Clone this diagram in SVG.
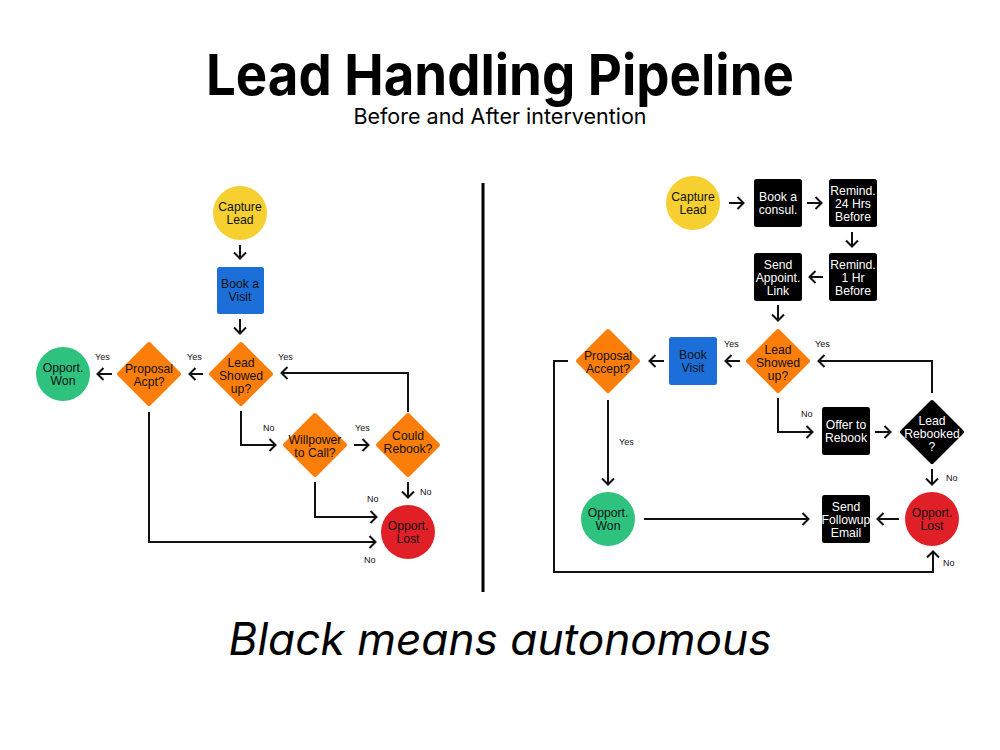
<svg xmlns="http://www.w3.org/2000/svg" width="1000" height="750" viewBox="0 0 1000 750">
<style>
.t{font-family:"Liberation Sans",Arial,sans-serif;font-size:12.2px;text-anchor:middle;fill:#111}
.w{fill:#fff}
.lbl{font-family:"Liberation Sans",Arial,sans-serif;font-size:9px;fill:#111}
.c{fill:none;stroke:#111;stroke-width:2}
.yel{fill:#F5D030}.blu{fill:#1C6FD8}.org{fill:#FC7E0A;stroke:#FC7E0A;stroke-width:4;stroke-linejoin:round}
.grn{fill:#2EC27E}.red{fill:#E01F27}.blk{fill:#000}
.bd{fill:#000;stroke:#000;stroke-width:4;stroke-linejoin:round}
</style>
<defs>
<marker id="ah" viewBox="0 0 14 14" refX="8.5" refY="7" markerWidth="14" markerHeight="14" markerUnits="userSpaceOnUse" orient="auto">
<path d="M2,1 L8,7 L2,13" fill="none" stroke="#111" stroke-width="2"/>
</marker>
</defs>
<rect width="1000" height="750" fill="#fff"/>
<g id="title">
<text x="500" y="95" font-family="Inter,'Liberation Sans',Arial,sans-serif" font-size="57" font-weight="700" text-anchor="middle" fill="#000" textLength="588" lengthAdjust="spacingAndGlyphs">Lead Handling Pipeline</text>
<text x="500" y="124" font-family="Inter,'Liberation Sans',Arial,sans-serif" font-size="21.5" text-anchor="middle" fill="#000">Before and After intervention</text>
<text x="500" y="655" font-family="Inter,'Liberation Sans',Arial,sans-serif" font-size="44.5" font-style="italic" text-anchor="middle" fill="#000" textLength="543" lengthAdjust="spacingAndGlyphs">Black means autonomous</text>
</g>
<line id="divider" x1="483" y1="183" x2="483" y2="592" stroke="#000" stroke-width="3"/>
<g id="connectors">
<path class="c" d="M240,245 V259" marker-end="url(#ah)"/>
<path class="c" d="M240,319 V334" marker-end="url(#ah)"/>
<path class="c" d="M203,374 H189" marker-end="url(#ah)"/>
<path class="c" d="M112,374 H97" marker-end="url(#ah)"/>
<path class="c" d="M241,411 V445 H276" marker-end="url(#ah)"/>
<path class="c" d="M354,445 H369" marker-end="url(#ah)"/>
<path class="c" d="M408,412 V373 H281" marker-end="url(#ah)"/>
<path class="c" d="M408,482 V498" marker-end="url(#ah)"/>
<path class="c" d="M315,482 V517 H377" marker-end="url(#ah)"/>
<path class="c" d="M149,412 V542 H376" marker-end="url(#ah)"/>
<path class="c" d="M729,203 H744" marker-end="url(#ah)"/>
<path class="c" d="M807,203 H822" marker-end="url(#ah)"/>
<path class="c" d="M852,232 V247" marker-end="url(#ah)"/>
<path class="c" d="M823,277 H809" marker-end="url(#ah)"/>
<path class="c" d="M778,305 V321" marker-end="url(#ah)"/>
<path class="c" d="M740,361 H725" marker-end="url(#ah)"/>
<path class="c" d="M664,361 H649" marker-end="url(#ah)"/>
<path class="c" d="M568,361 H554 V572 H933 V551" marker-end="url(#ah)"/>
<path class="c" d="M608,400 V485" marker-end="url(#ah)"/>
<path class="c" d="M644,519 H809" marker-end="url(#ah)"/>
<path class="c" d="M899,519 H877" marker-end="url(#ah)"/>
<path class="c" d="M778,398 V432 H813" marker-end="url(#ah)"/>
<path class="c" d="M875,432 H891" marker-end="url(#ah)"/>
<path class="c" d="M932,393 V361 H818" marker-end="url(#ah)"/>
<path class="c" d="M932,469 V485" marker-end="url(#ah)"/>
</g>
<g id="labels">
<text class="lbl" x="278" y="360">Yes</text>
<text class="lbl" x="187" y="360">Yes</text>
<text class="lbl" x="95" y="360">Yes</text>
<text class="lbl" x="263" y="431">No</text>
<text class="lbl" x="355" y="431">Yes</text>
<text class="lbl" x="420" y="495">No</text>
<text class="lbl" x="367" y="502">No</text>
<text class="lbl" x="364" y="563">No</text>
<text class="lbl" x="724" y="347">Yes</text>
<text class="lbl" x="815" y="347">Yes</text>
<text class="lbl" x="619" y="445">Yes</text>
<text class="lbl" x="801" y="417">No</text>
<text class="lbl" x="946" y="481">No</text>
<text class="lbl" x="943" y="566">No</text>
</g>
<g id="L_capture"><circle class="yel" cx="240" cy="213" r="27"/><text class="t" x="240" y="211">Capture</text><text class="t" x="240" y="224">Lead</text></g>
<g id="L_book"><rect class="blu" x="217" y="267" width="47" height="47" rx="2.5"/><text class="t" x="240" y="288">Book a</text><text class="t" x="240" y="301">Visit</text></g>
<g id="L_showed"><polygon class="org" points="241,344 271,374 241,404 211,374"/><text class="t" x="241" y="367">Lead</text><text class="t" x="241" y="380">Showed</text><text class="t" x="241" y="393">up?</text></g>
<g id="L_proposal"><polygon class="org" points="149,344 179,374 149,404 119,374"/><text class="t" x="149" y="373">Proposal</text><text class="t" x="149" y="386">Acpt?</text></g>
<g id="L_won"><circle class="grn" cx="63" cy="374" r="27"/><text class="t" x="63" y="372">Opport.</text><text class="t" x="63" y="385">Won</text></g>
<g id="L_willpower"><polygon class="org" points="315,415 345,445 315,475 285,445"/><text class="t" x="315" y="444">Willpower</text><text class="t" x="315" y="457">to Call?</text></g>
<g id="L_rebook"><polygon class="org" points="408,415 438,445 408,475 378,445"/><text class="t" x="408" y="440">Could</text><text class="t" x="408" y="453">Rebook?</text></g>
<g id="L_lost"><circle class="red" cx="408" cy="532" r="27"/><text class="t" x="408" y="530">Opport.</text><text class="t" x="408" y="543">Lost</text></g>
<g id="R_capture"><circle class="yel" cx="693" cy="203" r="27"/><text class="t" x="693" y="201">Capture</text><text class="t" x="693" y="214">Lead</text></g>
<g id="R_consul"><rect class="blk" x="754" y="179" width="48" height="48" rx="2.5"/><text class="t w" x="778" y="201">Book a</text><text class="t w" x="778" y="214">consul.</text></g>
<g id="R_remind24"><rect class="blk" x="829" y="179" width="48" height="48" rx="2.5"/><text class="t w" x="853" y="195">Remind.</text><text class="t w" x="853" y="208">24 Hrs</text><text class="t w" x="853" y="221">Before</text></g>
<g id="R_remind1"><rect class="blk" x="829" y="253" width="48" height="48" rx="2.5"/><text class="t w" x="853" y="269">Remind.</text><text class="t w" x="853" y="282">1 Hr</text><text class="t w" x="853" y="295">Before</text></g>
<g id="R_sendlink"><rect class="blk" x="754" y="253" width="48" height="48" rx="2.5"/><text class="t w" x="778" y="269">Send</text><text class="t w" x="778" y="282">Appoint.</text><text class="t w" x="778" y="295">Link</text></g>
<g id="R_showed"><polygon class="org" points="778,331 808,361 778,391 748,361"/><text class="t" x="778" y="354">Lead</text><text class="t" x="778" y="367">Showed</text><text class="t" x="778" y="380">up?</text></g>
<g id="R_bookvisit"><rect class="blu" x="669" y="337" width="48" height="48" rx="2.5"/><text class="t" x="693" y="359">Book</text><text class="t" x="693" y="372">Visit</text></g>
<g id="R_proposal"><polygon class="org" points="608,331 638,361 608,391 578,361"/><text class="t" x="608" y="360">Proposal</text><text class="t" x="608" y="373">Accept?</text></g>
<g id="R_won"><circle class="grn" cx="608" cy="519" r="27"/><text class="t" x="608" y="517">Opport.</text><text class="t" x="608" y="530">Won</text></g>
<g id="R_followup"><rect class="blk" x="822" y="495" width="48" height="48" rx="2.5"/><text class="t w" x="846" y="511">Send</text><text class="t w" x="846" y="524">Followup</text><text class="t w" x="846" y="537">Email</text></g>
<g id="R_lost"><circle class="red" cx="932" cy="519" r="27"/><text class="t" x="932" y="517">Opport.</text><text class="t" x="932" y="530">Lost</text></g>
<g id="R_offer"><rect class="blk" x="822" y="407" width="48" height="48" rx="2.5"/><text class="t w" x="846" y="429">Offer to</text><text class="t w" x="846" y="442">Rebook</text></g>
<g id="R_rebooked"><polygon class="bd" points="932,402 962,432 932,462 902,432"/><text class="t w" x="932" y="425">Lead</text><text class="t w" x="932" y="438">Rebooked</text><text class="t w" x="932" y="451">?</text></g>
</svg>
